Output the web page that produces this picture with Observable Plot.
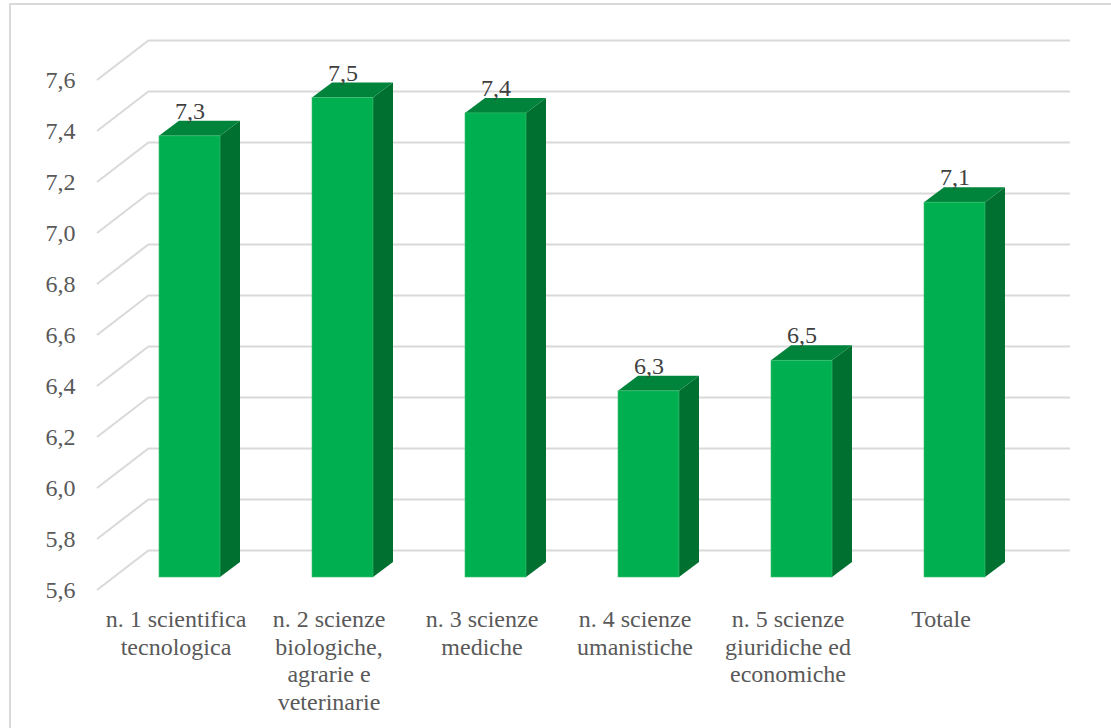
<!DOCTYPE html>
<html>
<head>
<meta charset="utf-8">
<script src="https://cdn.jsdelivr.net/npm/d3@7"></script>
<script src="https://cdn.jsdelivr.net/npm/@observablehq/plot@0.6"></script>
<style>
  html, body { margin: 0; padding: 0; background: #fff; font-family: "Liberation Serif", serif; }
  #wrap { position: relative; width: 1111px; height: 728px; }
  #frame { position: absolute; left: 9px; top: 3px; width: 1102px; height: 725px;
           border-left: 2px solid #d9d9d9; border-top: 2px solid #d9d9d9;
           box-sizing: border-box; pointer-events: none; }
  #chart svg text { font-family: "Liberation Serif", serif !important; }
</style>
</head>
<body>
<div id="wrap"><div id="chart"></div><div id="frame"></div></div>
<script>
// Mean scores by scientific area
const categories = [
  "n. 1 scientifica\ntecnologica",
  "n. 2 scienze\nbiologiche,\nagrarie e\nveterinarie",
  "n. 3 scienze\nmediche",
  "n. 4 scienze\numanistiche",
  "n. 5 scienze\ngiuridiche ed\neconomiche",
  "Totale"
];
const values = [7.33, 7.48, 7.42, 6.33, 6.45, 7.07];
const yTicks = [5.6, 5.8, 6.0, 6.2, 6.4, 6.6, 6.8, 7.0, 7.2, 7.4, 7.6];

const rows = categories.map((c, i) => ({cat: c, value: values[i]}));
const BASE = 5.6;
const fmt = v => v.toFixed(1).replace(".", ",");
const SERIF = "Liberation Serif";

// perspective offsets of the box (back wall) and of the bars inside it
const WALL = {dx: 52, dy: -40};
const BAR_FRONT = {dx: 14, dy: -13};
const BAR_DEPTH = {dx: 20, dy: -15};
const BAR_WIDTH = 61;

const GRID = "#d9d9d9";
const FRONT = "#00b050", TOP = "#00833b", SIDE = "#007031";

// diagonal floor/wall gridlines joining the front edge to the back wall
function wallDiagonals(index, scales, values, dims) {
  const g = d3.create("svg:g");
  const x0 = dims.marginLeft;
  for (const t of yTicks) {
    const y = scales.y(t);
    g.append("line")
      .attr("x1", x0).attr("y1", y)
      .attr("x2", x0 + WALL.dx).attr("y2", y + WALL.dy)
      .attr("stroke", GRID).attr("stroke-width", 2);
  }
  return g.node();
}

// 3D columns: front face, top face, right side face
function columns(index, scales, values, dims) {
  const g = d3.create("svg:g");
  const x = scales.x;
  const bw = x.bandwidth ? x.bandwidth() : (x(categories[1]) - x(categories[0]));
  for (const r of rows) {
    const cx = x(r.cat) + bw / 2 + BAR_FRONT.dx;
    const xl = cx - BAR_WIDTH / 2, xr = cx + BAR_WIDTH / 2;
    const yt = scales.y(r.value) + BAR_FRONT.dy;
    const yb = scales.y(BASE) + BAR_FRONT.dy;
    const ddx = BAR_DEPTH.dx, ddy = BAR_DEPTH.dy;
    g.append("polygon")
      .attr("points", [[xr, yt], [xr + ddx, yt + ddy], [xr + ddx, yb + ddy], [xr, yb]].join(" "))
      .attr("fill", SIDE);
    g.append("polygon")
      .attr("points", [[xl, yt], [xl + ddx, yt + ddy], [xr + ddx, yt + ddy], [xr, yt]].join(" "))
      .attr("fill", TOP);
    g.append("rect")
      .attr("x", xl).attr("y", yt)
      .attr("width", BAR_WIDTH).attr("height", yb - yt)
      .attr("fill", FRONT)
      .attr("stroke", "#3cc070").attr("stroke-width", 0.6);
  }
  return g.node();
}

const chart = Plot.plot({
  width: 1110,
  height: 726,
  marginLeft: 97,
  marginRight: 92,
  marginTop: 80,
  marginBottom: 136,
  style: {fontFamily: SERIF},
  x: {type: "band", domain: categories, padding: 0, axis: null},
  y: {domain: [5.6, 7.6], axis: null},
  marks: [
    Plot.ruleY(yTicks, {dx: WALL.dx, dy: WALL.dy, stroke: GRID, strokeWidth: 2}),
    wallDiagonals,
    columns,
    // value axis labels
    Plot.text(yTicks, {
      y: d => d, frameAnchor: "left", text: fmt, textAnchor: "end",
      dx: -22, fontSize: 24, fontFamily: SERIF, fill: "#595959"
    }),
    // category labels
    Plot.text(categories, {
      x: d => d, y: BASE, text: d => d, lineAnchor: "top", dy: 17,
      lineHeight: 1.15, fontSize: 24, fontFamily: SERIF, fill: "#595959"
    }),
    // data labels above columns
    Plot.text(rows, {
      x: "cat", y: "value", text: d => fmt(d.value),
      dx: 14, dy: -38, fontSize: 24, fontFamily: SERIF, fill: "#404040"
    })
  ]
});

chart.setAttribute("font-family", SERIF);
chart.querySelectorAll("text, tspan").forEach(el => {
  el.setAttribute("font-family", SERIF);
  el.style.fontFamily = SERIF;
});
document.getElementById("chart").appendChild(chart);
</script>
</body>
</html>
